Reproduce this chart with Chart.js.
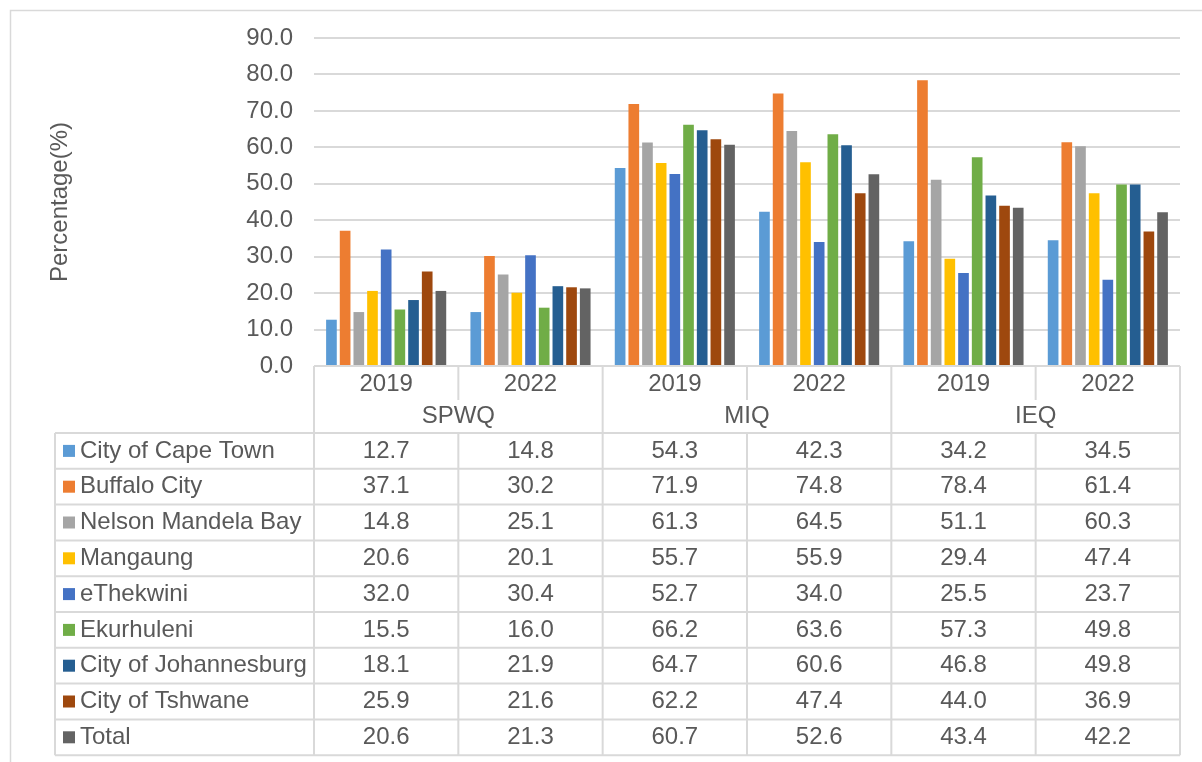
<!DOCTYPE html>
<html>
<head>
<meta charset="utf-8">
<script src="https://cdn.jsdelivr.net/npm/chart.js@4/dist/chart.umd.min.js"></script>
<style>
  body { margin: 0; background: #fff; }
</style>
</head>
<body>
<canvas id="chart" width="1202" height="762"></canvas>
<script>
// categories: year under each indicator group
var years = ['2019', '2022', '2019', '2022', '2019', '2022'];
var groups = ['SPWQ', 'MIQ', 'IEQ'];

var capeTown     = [12.7, 14.8, 54.3, 42.3, 34.2, 34.5];
var buffaloCity  = [37.1, 30.2, 71.9, 74.8, 78.4, 61.4];
var nelsonMandela = [14.8, 25.1, 61.3, 64.5, 51.1, 60.3];
var mangaung     = [20.6, 20.1, 55.7, 55.9, 29.4, 47.4];
var eThekwini    = [32.0, 30.4, 52.7, 34.0, 25.5, 23.7];
var ekurhuleni   = [15.5, 16.0, 66.2, 63.6, 57.3, 49.8];
var johannesburg = [18.1, 21.9, 64.7, 60.6, 46.8, 49.8];
var tshwane      = [25.9, 21.6, 62.2, 47.4, 44.0, 36.9];
var total        = [20.6, 21.3, 60.7, 52.6, 43.4, 42.2];

var yTicks = [0, 10, 20, 30, 40, 50, 60, 70, 80, 90];

var FONT = '"Liberation Sans", Arial, sans-serif';
var TEXT = '#595959';
var LINE = '#d9d9d9';

var series = [
  { label: 'City of Cape Town', data: capeTown, color: '#5B9BD5' },
  { label: 'Buffalo City', data: buffaloCity, color: '#ED7D31' },
  { label: 'Nelson Mandela Bay', data: nelsonMandela, color: '#A5A5A5' },
  { label: 'Mangaung', data: mangaung, color: '#FFC000' },
  { label: 'eThekwini', data: eThekwini, color: '#4472C4' },
  { label: 'Ekurhuleni', data: ekurhuleni, color: '#70AD47' },
  { label: 'City of Johannesburg', data: johannesburg, color: '#255E91' },
  { label: 'City of Tshwane', data: tshwane, color: '#9E480E' },
  { label: 'Total', data: total, color: '#636363' }
];

// row sizes of the category axis and the data table below the plot
var yearRowH = 34;
var groupRowH = 33;
var rowH = 35.8;
var tableLeft = 55;

function hline(ctx, x1, x2, y) {
  ctx.beginPath(); ctx.moveTo(x1, y); ctx.lineTo(x2, y); ctx.stroke();
}
function vline(ctx, x, y1, y2) {
  ctx.beginPath(); ctx.moveTo(x, y1); ctx.lineTo(x, y2); ctx.stroke();
}

var dataTable = {
  id: 'dataTable',
  beforeDraw: function (chart) {
    var ctx = chart.ctx;
    ctx.save();
    ctx.strokeStyle = LINE;
    ctx.lineWidth = 1.5;
    ctx.strokeRect(10.5, 10.5, 1400, 1000);
    ctx.restore();
  },
  afterDraw: function (chart) {
    var ctx = chart.ctx;
    var area = chart.chartArea;
    var x = chart.scales.x;
    var colW = (area.right - area.left) / years.length;
    var edges = years.map(function (_, i) { return x.getPixelForValue(i) - colW / 2; });
    edges.push(area.right);

    var top = area.bottom;
    var yearBottom = top + yearRowH;
    var tableTop = yearBottom + groupRowH;
    var tableBottom = tableTop + rowH * series.length;

    ctx.save();
    ctx.strokeStyle = LINE;
    ctx.lineWidth = 2;

    // axis line and table grid
    hline(ctx, area.left, area.right, top);
    for (var r = 0; r <= series.length; r++) {
      hline(ctx, tableLeft, area.right, tableTop + r * rowH);
    }
    vline(ctx, tableLeft, tableTop, tableBottom);
    edges.forEach(function (ex, i) {
      if (i % 2 === 1) {
        vline(ctx, ex, top, yearBottom);
        vline(ctx, ex, tableTop, tableBottom);
      } else {
        vline(ctx, ex, top, tableBottom);
      }
    });

    ctx.fillStyle = TEXT;
    ctx.font = '24px ' + FONT;
    ctx.textAlign = 'center';
    ctx.textBaseline = 'middle';

    years.forEach(function (yr, i) {
      ctx.fillText(yr, x.getPixelForValue(i), top + yearRowH / 2 + 1);
    });
    groups.forEach(function (g, i) {
      ctx.fillText(g, (edges[i * 2] + edges[i * 2 + 2]) / 2, yearBottom + groupRowH / 2);
    });

    series.forEach(function (s, r) {
      var cy = tableTop + r * rowH + rowH / 2;
      ctx.fillStyle = s.color;
      ctx.fillRect(63, cy - 6, 12, 12);
      ctx.fillStyle = TEXT;
      ctx.textAlign = 'left';
      ctx.fillText(s.label, 80, cy);
      ctx.textAlign = 'center';
      s.data.forEach(function (v, i) {
        ctx.fillText(v.toFixed(1), x.getPixelForValue(i), cy);
      });
    });
    ctx.restore();
  }
};

new Chart(document.getElementById('chart'), {
  type: 'bar',
  data: {
    labels: years,
    datasets: series.map(function (s) {
      return {
        label: s.label,
        data: s.data,
        backgroundColor: s.color,
        barPercentage: 0.78,
        categoryPercentage: 0.853
      };
    })
  },
  options: {
    responsive: false,
    animation: false,
    layout: { padding: { left: 0, top: 38, right: 22, bottom: 396 } },
    plugins: { legend: { display: false }, tooltip: { enabled: false } },
    scales: {
      x: { display: false },
      y: {
        min: 0,
        max: 90,
        afterBuildTicks: function (scale) {
          scale.ticks = yTicks.map(function (v) { return { value: v }; });
        },
        afterFit: function (scale) { scale.width = 314; },
        border: { display: false },
        grid: { color: LINE, lineWidth: 2, drawTicks: false },
        ticks: {
          padding: 21,
          color: TEXT,
          font: { family: FONT, size: 24 },
          callback: function (v) { return Number(v).toFixed(1); }
        },
        title: {
          display: true,
          text: 'Percentage(%)',
          color: TEXT,
          font: { family: FONT, size: 24 },
          padding: { top: 46, bottom: 0 }
        }
      }
    }
  },
  plugins: [dataTable]
});
</script>
</body>
</html>
